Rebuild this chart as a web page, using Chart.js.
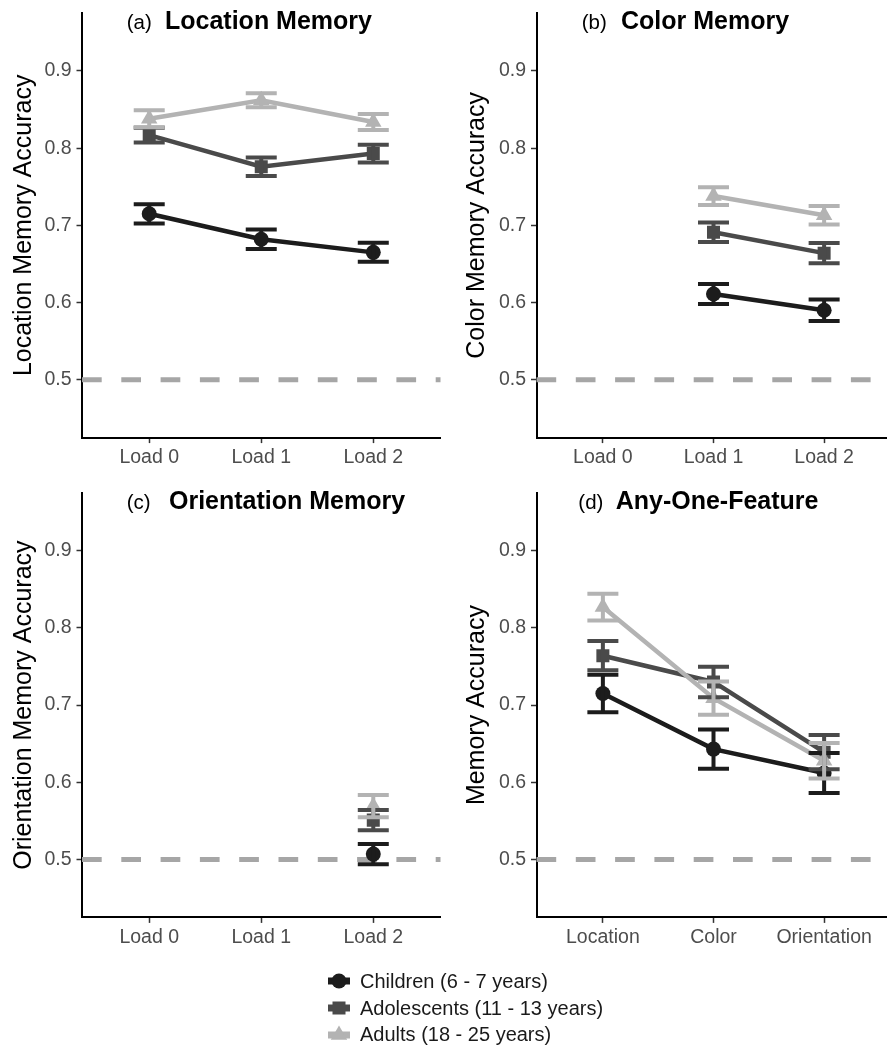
<!DOCTYPE html>
<html lang="en">
<head>
    <meta charset="UTF-8">
    <title>Memory Accuracy</title>
    <script src="https://cdn.jsdelivr.net/npm/chart.js"></script>
    <style>
        body { margin: 0; width: 887px; height: 1046px; overflow: hidden; background: #fff; position: relative;
               font-family: 'Liberation Sans', Arial, sans-serif; }
        .painel { position: absolute; }
        #legenda { position: absolute; left: 322px; top: 968px; }
        .item { height: 26.7px; display: flex; align-items: center; font-size: 20px; color: #1a1a1a; white-space: nowrap; }
        .item canvas { margin-right: 4px; }
    </style>
</head>
<body>
    <div class="painel" style="left:0;top:0;width:450px;height:470px"><canvas id="graficoA"></canvas></div>
    <div class="painel" style="left:450px;top:0;width:450px;height:470px"><canvas id="graficoB"></canvas></div>
    <div class="painel" style="left:0;top:470px;width:450px;height:475px"><canvas id="graficoC"></canvas></div>
    <div class="painel" style="left:450px;top:470px;width:450px;height:475px"><canvas id="graficoD"></canvas></div>
    <div id="legenda"></div>
</body>
</html>

<script>
// categorias e grupos
const cargas = ['Load 0', 'Load 1', 'Load 2'];
const atributos = ['Location', 'Color', 'Orientation'];
const grupos = ['Children (6 - 7 years)', 'Adolescents (11 - 13 years)', 'Adults (18 - 25 years)'];
const ticksY = [0.5, 0.6, 0.7, 0.8, 0.9];
const acaso = 0.5;

// (a) Location Memory - media e erro padrao
const locCriancas = [0.715, 0.682, 0.665];
const locCriancasErro = [0.0125, 0.0125, 0.0123];
const locAdolescentes = [0.817, 0.776, 0.793];
const locAdolescentesErro = [0.0095, 0.012, 0.0115];
const locAdultos = [0.838, 0.862, 0.834];
const locAdultosErro = [0.011, 0.009, 0.0104];

// (b) Color Memory - sem Load 0
const corCriancas = [null, 0.611, 0.590];
const corCriancasErro = [null, 0.013, 0.014];
const corAdolescentes = [null, 0.691, 0.664];
const corAdolescentesErro = [null, 0.0127, 0.013];
const corAdultos = [null, 0.738, 0.713];
const corAdultosErro = [null, 0.0115, 0.012];

// (c) Orientation Memory - so Load 2
const oriCriancas = [null, null, 0.507];
const oriCriancasErro = [null, null, 0.013];
const oriAdolescentes = [null, null, 0.551];
const oriAdolescentesErro = [null, null, 0.013];
const oriAdultos = [null, null, 0.569];
const oriAdultosErro = [null, null, 0.0144];

// (d) Any-One-Feature
const qualquerCriancas = [0.715, 0.643, 0.612];
const qualquerCriancasErro = [0.0244, 0.0253, 0.0259];
const qualquerAdolescentes = [0.764, 0.730, 0.639];
const qualquerAdolescentesErro = [0.019, 0.0198, 0.0222];
const qualquerAdultos = [0.827, 0.709, 0.628];
const qualquerAdultosErro = [0.0173, 0.0216, 0.023];

// estilo de cada grupo (criancas, adolescentes, adultos)
const estilos = [
    { cor: '#1c1c1c', ponto: 'circle', raio: 7.5, ordem: 3 },
    { cor: '#4a4a4a', ponto: 'rect', raio: 9.2, ordem: 2 },
    { cor: '#b3b3b3', ponto: 'triangle', raio: 9.5, ordem: 1 }
];

Chart.defaults.font.family = "'Liberation Sans', Arial, sans-serif";

function montarDataset(i, valores, erros) {
    let pontos = [];
    let barras = [];
    for (let k = 0; k < valores.length; k++) {
        if (valores[k] == null) continue;
        pontos.push({ x: k, y: valores[k] });
        barras.push({ x: k, y: valores[k], e: erros[k] });
    }
    return {
        label: grupos[i],
        data: pontos,
        erros: barras,
        borderColor: estilos[i].cor,
        backgroundColor: estilos[i].cor,
        borderWidth: 4.5,
        pointStyle: estilos[i].ponto,
        pointRadius: estilos[i].raio,
        pointBorderWidth: 0,
        order: estilos[i].ordem
    };
}

// linha tracejada do acaso (0.5)
const pluginAcaso = {
    id: 'acaso',
    beforeDatasetsDraw(chart) {
        const { ctx, chartArea, scales } = chart;
        const y = scales.y.getPixelForValue(acaso);
        ctx.save();
        ctx.strokeStyle = '#a6a6a6';
        ctx.lineWidth = 5;
        ctx.setLineDash([19.7, 19.6]);
        ctx.beginPath();
        ctx.moveTo(chartArea.left, y);
        ctx.lineTo(chartArea.right, y);
        ctx.stroke();
        ctx.restore();
    }
};

// barras de erro (desenhadas por cima de linhas e pontos)
const pluginErro = {
    id: 'erro',
    afterDatasetsDraw(chart) {
        const { ctx, scales } = chart;
        ctx.save();
        ctx.lineWidth = 4;
        chart.data.datasets.forEach(ds => {
            ctx.strokeStyle = ds.borderColor;
            ds.erros.forEach(b => {
                const x = scales.x.getPixelForValue(b.x);
                const y1 = scales.y.getPixelForValue(b.y - b.e);
                const y2 = scales.y.getPixelForValue(b.y + b.e);
                ctx.beginPath();
                ctx.moveTo(x, y1); ctx.lineTo(x, y2);
                ctx.moveTo(x - 15.5, y1); ctx.lineTo(x + 15.5, y1);
                ctx.moveTo(x - 15.5, y2); ctx.lineTo(x + 15.5, y2);
                ctx.stroke();
            });
        });
        ctx.restore();
    }
};

// titulo do painel: letra normal + nome em negrito
const pluginTitulo = {
    id: 'tituloPainel',
    afterDraw(chart, args, opts) {
        const { ctx, chartArea } = chart;
        ctx.save();
        ctx.fillStyle = '#000';
        ctx.textBaseline = 'alphabetic';
        ctx.font = "20.5px 'Liberation Sans', Arial, sans-serif";
        ctx.fillText(opts.letra, chartArea.left + opts.dxLetra, chartArea.top + 16);
        ctx.font = "bold 25px 'Liberation Sans', Arial, sans-serif";
        ctx.fillText(opts.nome, chartArea.left + opts.dxNome, chartArea.top + 16);
        ctx.restore();
    }
};

function montarGrafico(id, cfg) {
    const config = {
        type: 'line',
        data: { datasets: cfg.datasets },
        options: {
            responsive: true,
            maintainAspectRatio: false,
            animation: false,
            layout: { padding: { top: cfg.topo, right: cfg.direita, left: 0, bottom: 0 } },
            plugins: {
                legend: { display: false },
                tooltip: { enabled: false },
                tituloPainel: cfg.titulo
            },
            scales: {
                x: {
                    type: 'linear',
                    min: -0.6,
                    max: 2.6,
                    afterBuildTicks: s => { s.ticks = [0, 1, 2].map(v => ({ value: v })); },
                    afterFit: s => { s.height = cfg.alturaX; s.paddingLeft = 0; s.paddingRight = 0; },
                    border: { display: true, color: '#000', width: 2 },
                    grid: { drawOnChartArea: false, tickLength: 5.5, tickColor: '#333', tickWidth: 1.5 },
                    ticks: {
                        color: '#4d4d4d', font: { size: 19.5 }, padding: 3, maxRotation: 0,
                        callback: v => cfg.rotulos[v]
                    }
                },
                y: {
                    min: 0.425,
                    max: 0.975,
                    afterBuildTicks: s => { s.ticks = ticksY.map(v => ({ value: v })); },
                    afterFit: s => { s.width = cfg.larguraY; s.paddingTop = 0; s.paddingBottom = 0; },
                    border: { display: true, color: '#000', width: 2 },
                    grid: { drawOnChartArea: false, tickLength: 5.5, tickColor: '#333', tickWidth: 1.5 },
                    ticks: { color: '#4d4d4d', font: { size: 19.5 }, padding: 5, callback: v => v.toFixed(1) },
                    title: {
                        display: true, text: cfg.tituloY, color: '#000',
                        font: { size: 25 }, padding: { top: cfg.padTitulo, bottom: 0 }
                    }
                }
            }
        },
        plugins: [pluginAcaso, pluginErro, pluginTitulo]
    };
    return new Chart(document.getElementById(id), config);
}

montarGrafico('graficoA', {
    datasets: [
        montarDataset(0, locCriancas, locCriancasErro),
        montarDataset(1, locAdolescentes, locAdolescentesErro),
        montarDataset(2, locAdultos, locAdultosErro)
    ],
    rotulos: cargas, tituloY: 'Location Memory Accuracy',
    topo: 13.1, direita: 8, alturaX: 32.4, larguraY: 82, padTitulo: 9.2,
    titulo: { letra: '(a)', nome: 'Location Memory', dxLetra: 44.7, dxNome: 83 }
});

montarGrafico('graficoB', {
    datasets: [
        montarDataset(0, corCriancas, corCriancasErro),
        montarDataset(1, corAdolescentes, corAdolescentesErro),
        montarDataset(2, corAdultos, corAdultosErro)
    ],
    rotulos: cargas, tituloY: 'Color Memory Accuracy',
    topo: 13.1, direita: 3.5, alturaX: 32.4, larguraY: 86.5, padTitulo: 12.5,
    titulo: { letra: '(b)', nome: 'Color Memory', dxLetra: 45.2, dxNome: 84.5 }
});

montarGrafico('graficoC', {
    datasets: [
        montarDataset(0, oriCriancas, oriCriancasErro),
        montarDataset(1, oriAdolescentes, oriAdolescentesErro),
        montarDataset(2, oriAdultos, oriAdultosErro)
    ],
    rotulos: cargas, tituloY: 'Orientation Memory Accuracy',
    topo: 22.8, direita: 8, alturaX: 27.6, larguraY: 82, padTitulo: 9.2,
    titulo: { letra: '(c)', nome: 'Orientation Memory', dxLetra: 44.7, dxNome: 87 }
});

montarGrafico('graficoD', {
    datasets: [
        montarDataset(0, qualquerCriancas, qualquerCriancasErro),
        montarDataset(1, qualquerAdolescentes, qualquerAdolescentesErro),
        montarDataset(2, qualquerAdultos, qualquerAdultosErro)
    ],
    rotulos: atributos, tituloY: 'Memory Accuracy',
    topo: 22.8, direita: 3.5, alturaX: 27.6, larguraY: 86.5, padTitulo: 12.5,
    titulo: { letra: '(d)', nome: 'Any-One-Feature', dxLetra: 41.8, dxNome: 79.2 }
});

// legenda comum aos quatro paineis
const legenda = document.getElementById('legenda');
grupos.forEach((nome, i) => {
    const linha = document.createElement('div');
    linha.className = 'item';
    const chave = document.createElement('canvas');
    chave.width = 34; chave.height = 26;
    const c = chave.getContext('2d');
    c.fillStyle = estilos[i].cor;
    c.strokeStyle = estilos[i].cor;
    c.lineWidth = 7;
    c.beginPath(); c.moveTo(6, 13); c.lineTo(28, 13); c.stroke();
    Chart.helpers.drawPoint(c, { pointStyle: estilos[i].ponto, radius: estilos[i].raio, rotation: 0, borderWidth: 0 }, 17, 13);
    linha.appendChild(chave);
    const texto = document.createElement('span');
    texto.textContent = nome;
    linha.appendChild(texto);
    legenda.appendChild(linha);
});
</script>
